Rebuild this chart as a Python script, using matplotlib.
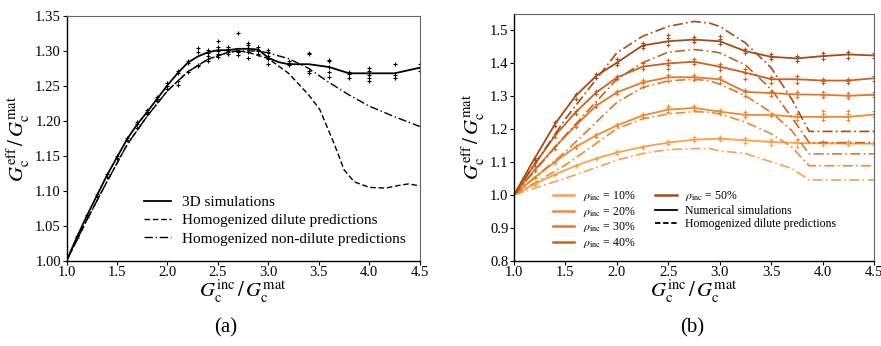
import matplotlib
matplotlib.use("Agg")
import matplotlib.pyplot as plt

plt.rcParams['font.family'] = ['Liberation Serif', 'DejaVu Serif']
plt.rcParams['mathtext.fontset'] = 'stix'

# ---- (a) single volume fraction: 3D runs vs homogenized models ----
sim_x = [1.0, 1.1, 1.2, 1.3, 1.4, 1.5, 1.6, 1.7, 1.8, 1.9, 2.0, 2.1, 2.2, 2.3, 2.4,
         2.5, 2.6, 2.7, 2.8, 2.9, 3.0, 3.1, 3.2, 3.4, 3.6, 3.8, 4.0, 4.25, 4.5]
sim_y = [1.000, 1.033, 1.064, 1.093, 1.122, 1.148, 1.174, 1.195, 1.213, 1.232, 1.251,
         1.268, 1.283, 1.292, 1.298, 1.301, 1.301, 1.303, 1.303, 1.302, 1.290, 1.284,
         1.281, 1.281, 1.277, 1.268, 1.268, 1.268, 1.276]

dil_x = [1.0, 1.2, 1.4, 1.6, 1.8, 2.0, 2.2, 2.4, 2.6, 2.7, 2.8, 3.0, 3.2, 3.4, 3.51,
         3.65, 3.75, 3.85, 4.0, 4.16, 4.3, 4.39, 4.5]
dil_y = [1.000, 1.058, 1.113, 1.166, 1.207, 1.243, 1.270, 1.288, 1.298, 1.300, 1.298,
         1.289, 1.268, 1.237, 1.216, 1.168, 1.130, 1.113, 1.105, 1.104, 1.108, 1.110, 1.107]

ndil_x = [1.0, 1.2, 1.4, 1.6, 1.8, 2.0, 2.2, 2.4, 2.6, 2.7, 2.9, 3.0, 3.2, 3.4, 3.6,
          3.8, 4.0, 4.25, 4.5]
ndil_y = [1.000, 1.058, 1.113, 1.166, 1.207, 1.243, 1.270, 1.288, 1.298, 1.300, 1.300,
          1.297, 1.289, 1.275, 1.255, 1.237, 1.221, 1.206, 1.192]

# individual realisations
runs_a = {
    1.1: [1.033, 1.035],
    1.2: [1.062, 1.066],
    1.3: [1.092, 1.095],
    1.4: [1.120, 1.124],
    1.5: [1.147, 1.150],
    1.6: [1.173, 1.176],
    1.7: [1.190, 1.195, 1.199],
    1.8: [1.210, 1.213, 1.216],
    1.9: [1.229, 1.232, 1.234],
    2.0: [1.245, 1.250, 1.254],
    2.1: [1.252, 1.257, 1.268, 1.272],
    2.2: [1.270, 1.283, 1.286],
    2.3: [1.278, 1.280, 1.298, 1.304],
    2.4: [1.285, 1.293, 1.297, 1.301],
    2.5: [1.292, 1.296, 1.300, 1.305, 1.314],
    2.6: [1.296, 1.298, 1.300, 1.303, 1.306],
    2.7: [1.294, 1.298, 1.300, 1.326],
    2.8: [1.290, 1.298, 1.304, 1.308, 1.312],
    2.9: [1.295, 1.300, 1.302, 1.305],
    3.0: [1.281, 1.288, 1.293, 1.298, 1.302],
    3.2: [1.280, 1.283, 1.286],
    3.4: [1.268, 1.272, 1.295, 1.297],
    3.6: [1.263, 1.270, 1.277, 1.285, 1.287],
    3.8: [1.262, 1.267, 1.270],
    4.0: [1.257, 1.261, 1.265, 1.271, 1.275],
    4.25: [1.261, 1.265, 1.281],
    4.5: [1.272, 1.276, 1.281],
}

# ---- (b) several volume fractions ----
rho_labels = ['10%', '20%', '30%', '40%', '50%']
rho_colors = ['#fca04a', '#f48a30', '#e3772a', '#c9621e', '#a64c16']

num_x = [1.0, 1.2, 1.4, 1.6, 1.8, 2.0, 2.25, 2.5, 2.75, 3.0, 3.25, 3.5, 3.75, 4.0, 4.25, 4.5]
num_y = [
    [1.000, 1.032, 1.062, 1.088, 1.110, 1.128, 1.145, 1.158, 1.167, 1.170, 1.165, 1.160, 1.157, 1.156, 1.155, 1.155],
    [1.000, 1.052, 1.100, 1.145, 1.180, 1.210, 1.240, 1.258, 1.263, 1.252, 1.242, 1.242, 1.236, 1.236, 1.236, 1.243],
    [1.000, 1.075, 1.145, 1.210, 1.270, 1.310, 1.340, 1.356, 1.356, 1.350, 1.312, 1.308, 1.304, 1.303, 1.300, 1.303],
    [1.000, 1.092, 1.180, 1.250, 1.310, 1.355, 1.388, 1.398, 1.403, 1.388, 1.370, 1.350, 1.350, 1.346, 1.346, 1.353],
    [1.000, 1.110, 1.215, 1.300, 1.360, 1.400, 1.452, 1.465, 1.470, 1.465, 1.435, 1.418, 1.413, 1.420, 1.425, 1.422],
]

hom_x = [1.0, 1.5, 2.0, 2.25, 2.5, 2.75, 2.9, 3.0, 3.25, 3.5, 3.7, 3.87, 4.5]
hom_y = [
    [1.000, 1.050, 1.105, 1.125, 1.137, 1.140, 1.140, 1.133, 1.125, 1.100, 1.080, 1.045, 1.045],
    [1.000, 1.090, 1.200, 1.230, 1.245, 1.252, 1.250, 1.245, 1.220, 1.185, 1.145, 1.088, 1.088],
    [1.000, 1.130, 1.280, 1.325, 1.345, 1.350, 1.345, 1.335, 1.300, 1.250, 1.195, 1.124, 1.124],
    [1.000, 1.180, 1.350, 1.400, 1.432, 1.440, 1.435, 1.430, 1.393, 1.320, 1.235, 1.158, 1.158],
    [1.000, 1.230, 1.430, 1.480, 1.510, 1.525, 1.520, 1.510, 1.460, 1.385, 1.290, 1.192, 1.192],
]

# spread of the individual runs around each numerical curve
runs_x = [1.2, 1.4, 1.6, 1.8, 2.0, 2.25, 2.5, 2.75, 3.0, 3.25, 3.5, 3.75, 4.0, 4.25, 4.5]
runs_b = [
    [[1.030, 1.034], [1.060, 1.064], [1.086, 1.090], [1.107, 1.112], [1.124, 1.133],
     [1.142, 1.148], [1.155, 1.162], [1.162, 1.170, 1.174], [1.166, 1.172, 1.175], [1.158, 1.166, 1.172],
     [1.150, 1.160, 1.167], [1.146, 1.157, 1.165], [1.150, 1.157, 1.162], [1.150, 1.156, 1.162], [1.150, 1.156]],
    [[1.050, 1.055], [1.097, 1.103], [1.142, 1.148], [1.176, 1.184], [1.207, 1.214],
     [1.236, 1.244], [1.252, 1.262, 1.270], [1.256, 1.263, 1.268], [1.246, 1.252, 1.258], [1.236, 1.243, 1.250],
     [1.238, 1.244], [1.226, 1.236, 1.244], [1.228, 1.236, 1.245, 1.255], [1.228, 1.236, 1.245, 1.255], [1.235, 1.245, 1.255]],
    [[1.072, 1.078], [1.140, 1.148], [1.205, 1.214], [1.265, 1.275], [1.305, 1.315],
     [1.328, 1.340, 1.348], [1.345, 1.356, 1.362], [1.348, 1.356, 1.362], [1.338, 1.350, 1.357], [1.300, 1.310, 1.318],
     [1.298, 1.308, 1.315], [1.296, 1.304, 1.312], [1.295, 1.303, 1.310], [1.293, 1.300, 1.308], [1.295, 1.303, 1.310]],
    [[1.088, 1.095], [1.175, 1.185], [1.245, 1.255], [1.305, 1.315], [1.350, 1.360],
     [1.380, 1.390, 1.398], [1.380, 1.392, 1.400, 1.408], [1.395, 1.403, 1.410], [1.378, 1.388, 1.396], [1.350, 1.368, 1.380],
     [1.340, 1.350, 1.356], [1.340, 1.350, 1.360], [1.340, 1.346, 1.352], [1.340, 1.346, 1.352], [1.345, 1.353, 1.360]],
    [[1.105, 1.112], [1.208, 1.220], [1.290, 1.305], [1.355, 1.365], [1.392, 1.400, 1.410],
     [1.445, 1.452, 1.460], [1.455, 1.465, 1.475, 1.485], [1.462, 1.470, 1.478], [1.458, 1.465, 1.472, 1.480], [1.428, 1.435, 1.442],
     [1.410, 1.418, 1.425], [1.405, 1.413, 1.420], [1.412, 1.420, 1.428], [1.415, 1.425, 1.432], [1.415, 1.422, 1.430]],
]

xlab = r'$G_\mathrm{c}^\mathrm{inc}\,/\,G_\mathrm{c}^\mathrm{mat}$'
ylab = r'$G_\mathrm{c}^\mathrm{eff}\,/\,G_\mathrm{c}^\mathrm{mat}$'
dashdot = (0, (6, 2, 1, 2))

fig = plt.figure(figsize=(8.81, 3.46), dpi=100)
ax1 = fig.add_axes([0.0755, 0.246, 0.401, 0.708])
ax2 = fig.add_axes([0.5834, 0.246, 0.4086, 0.714])

# panel (a)
ax1.plot(sim_x, sim_y, color='black', lw=1.3, label='3D simulations')
ax1.plot(dil_x, dil_y, color='black', lw=1.0, ls=(0, (4, 2)), label='Homogenized dilute predictions')
ax1.plot(ndil_x, ndil_y, color='black', lw=1.0, ls=dashdot,
         label='Homogenized non-dilute predictions')
for xv, ys in runs_a.items():
    ax1.plot([xv] * len(ys), ys, ls='none', marker='+', ms=3, mew=0.8, color='black')

ax1.set_xlim(1.0, 4.5)
ax1.set_ylim(1.0, 1.35)
ax1.set_xticks([1.0, 1.5, 2.0, 2.5, 3.0, 3.5, 4.0, 4.5])
ax1.set_yticks([1.00, 1.05, 1.10, 1.15, 1.20, 1.25, 1.30, 1.35])
ax1.set_yticklabels(['%.2f' % v for v in ax1.get_yticks()])
ax1.set_xlabel(xlab, fontsize=15, labelpad=-1)
ax1.set_ylabel(ylab, fontsize=15, labelpad=2)
ax1.legend(loc='lower right', bbox_to_anchor=(0.977, 0.037), borderaxespad=0, frameon=False,
           fontsize=11, handlelength=1.8, handletextpad=0.7, labelspacing=0.3)

# panel (b)
for i in range(5):
    c = rho_colors[i]
    ax2.plot(num_x, num_y[i], color=c, lw=1.3)
    ax2.plot(hom_x, hom_y[i], color=c, lw=1.2, ls=dashdot)
    for xv, ys in zip(runs_x, runs_b[i]):
        ax2.plot([xv] * len(ys), ys, ls='none', marker='+', ms=3, mew=0.8, color=c)

handles = [plt.Line2D([], [], color=c, lw=1.8) for c in rho_colors]
labels = [r'$\rho_\mathrm{inc}$ = ' + s for s in rho_labels]
handles += [plt.Line2D([], [], color='black', lw=1.3),
            plt.Line2D([], [], color='black', lw=1.3, ls=(0, (3, 1.5)))]
labels += ['Numerical simulations', 'Homogenized dilute predictions']
ax2.legend(handles, labels, loc='lower left', bbox_to_anchor=(0.094, 0.024), borderaxespad=0,
           ncol=2, frameon=False, fontsize=8.5, handlelength=1.8, handletextpad=0.75,
           labelspacing=0.15, columnspacing=1.7)

ax2.set_xlim(1.0, 4.5)
ax2.set_ylim(0.8, 1.548)
ax2.set_xticks([1.0, 1.5, 2.0, 2.5, 3.0, 3.5, 4.0, 4.5])
ax2.set_yticks([0.8, 0.9, 1.0, 1.1, 1.2, 1.3, 1.4, 1.5])
ax2.set_xlabel(xlab, fontsize=15, labelpad=-1)
ax2.set_ylabel(ylab, fontsize=15, labelpad=2)

for ax in (ax1, ax2):
    ax.tick_params(direction='out', length=3, width=0.8, labelsize=10.5, pad=1)
    for side in ('top', 'right'):
        ax.spines[side].set_color('#666666')
    for side in ('left', 'bottom'):
        ax.spines[side].set_linewidth(1.0)

fig.text(0.256, 0.04, '(a)', fontsize=15, ha='center')
fig.text(0.786, 0.04, '(b)', fontsize=15, ha='center')

fig.savefig('out.png', dpi=100)
